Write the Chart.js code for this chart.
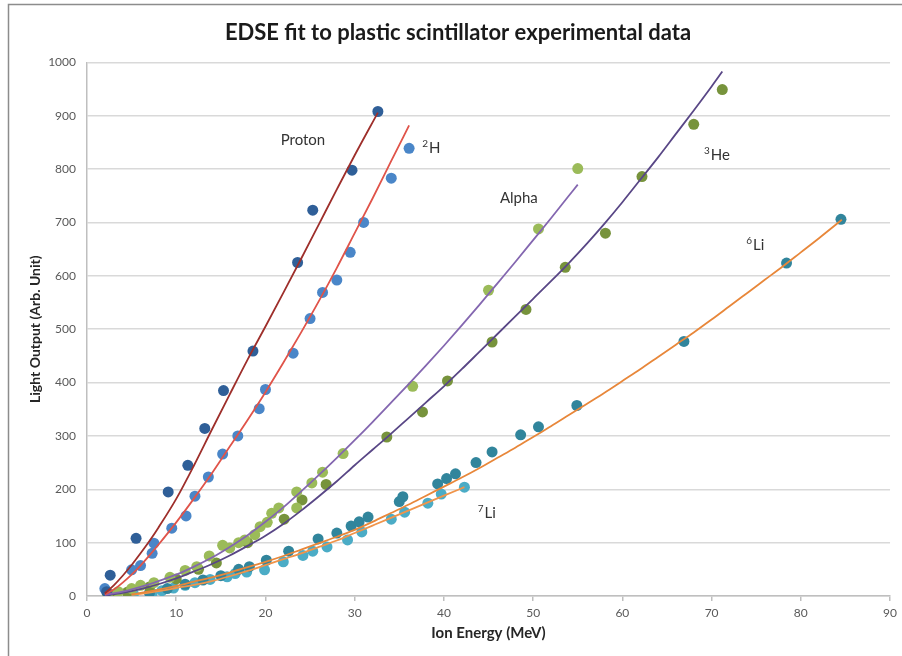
<!DOCTYPE html>
<html>
<head>
<meta charset="utf-8">
<script src="https://cdn.jsdelivr.net/npm/chart.js@4/dist/chart.umd.min.js"></script>
<style>
  html, body { margin: 0; padding: 0; background: #fff; }
</style>
</head>
<body>
<canvas id="chart" width="902" height="656"></canvas>
<script>
// measured light output per ion, and the EDSE fit curves
const protonE = [2.2, 2.6, 5.5, 9.1, 11.3, 13.2, 15.3, 18.6, 23.6, 25.3, 29.7, 32.6];
const protonL = [8, 39, 108, 195, 245, 314, 385, 459, 625, 723, 798, 908];
const protonFitE = [2, 3, 4, 5, 6, 7, 8, 10, 12, 14, 16, 18, 20, 22, 24, 26, 28, 30, 32.6];
const protonFitL = [5, 20, 38, 58, 80, 103, 128, 182, 245, 312, 378, 443, 505, 568, 632, 697, 762, 826, 906];

const deutE = [2.0, 5.0, 6.0, 7.3, 7.5, 9.5, 11.1, 12.1, 13.6, 15.2, 16.9, 19.3, 20.0, 23.1, 25.0, 26.4, 28.0, 29.5, 31.0, 34.1, 36.1];
const deutL = [14, 49, 57, 80, 99, 127, 150, 187, 223, 266, 300, 351, 387, 455, 520, 569, 592, 644, 700, 783, 839];
const deutFitE = [2, 3, 4, 5, 6, 7, 8, 10, 12, 14, 16, 18, 20, 22, 24, 26, 28, 30, 32, 34, 36.1];
const deutFitL = [3, 12, 25, 40, 57, 76, 96, 138, 183, 230, 280, 330, 382, 437, 494, 553, 615, 680, 745, 812, 882];

const alphaE = [2.3, 3.5, 5.0, 6.0, 7.5, 9.3, 11.0, 12.3, 13.7, 15.2, 16.0, 17.0, 17.7, 18.8, 19.4, 20.2, 20.7, 21.5, 23.5, 23.5, 25.2, 26.4, 28.7, 36.5, 45.0, 50.6, 55.0];
const alphaL = [3, 8, 14, 20, 25, 35, 48, 55, 75, 95, 90, 100, 105, 115, 130, 138, 155, 165, 165, 195, 212, 232, 267, 393, 573, 688, 801];
const alphaFitE = [2, 4, 6, 8, 10, 12, 14, 16, 18, 20, 22, 24, 26, 28, 30, 32, 34, 36, 38, 40, 42, 44, 46, 48, 50, 52, 54, 55];
const alphaFitL = [2, 8, 17, 28, 40, 55, 72, 92, 114, 139, 166, 196, 227, 259, 292, 326, 361, 396, 432, 469, 507, 546, 586, 626, 667, 708, 750, 771];

const he3E = [2.8, 4.5, 7.0, 10.0, 12.5, 14.5, 18.0, 22.1, 24.1, 26.8, 33.6, 37.6, 40.4, 45.4, 49.2, 53.6, 58.1, 62.2, 68.0, 71.2];
const he3L = [2, 7, 17, 32, 50, 62, 100, 144, 180, 209, 298, 345, 403, 476, 537, 616, 680, 786, 884, 949];
const he3FitE = [2, 4, 6, 8, 10, 12, 14, 16, 18, 20, 22, 24, 26, 28, 30, 32, 34, 36, 38, 40, 42, 44, 46, 48, 50, 52, 54, 56, 58, 60, 62, 64, 66, 68, 70, 71.2];
const he3FitL = [1, 6, 13, 22, 33, 46, 60, 76, 94, 113, 135, 160, 187, 215, 245, 274, 303, 333, 363, 393, 425, 458, 491, 524, 557, 590, 624, 660, 698, 738, 780, 822, 866, 910, 955, 983];

const li6E = [7.0, 9.0, 11.0, 13.0, 15.0, 17.0, 18.2, 20.1, 22.6, 25.9, 28.0, 29.6, 30.5, 31.5, 35.0, 35.4, 39.3, 40.3, 41.3, 43.6, 45.4, 48.6, 50.6, 54.9, 66.9, 78.4, 84.5];
const li6L = [6, 14, 22, 30, 38, 50, 55, 67, 84, 107, 118, 131, 139, 148, 177, 186, 210, 220, 229, 250, 270, 302, 317, 357, 477, 624, 706];
const li6FitE = [5, 8, 10, 12, 14, 16, 18, 20, 22, 24, 26, 28, 30, 32, 34, 36, 38, 40, 42, 44, 46, 48, 50, 52, 54, 56, 58, 60, 62, 64, 66, 68, 70, 72, 74, 76, 78, 80, 82, 84.6];
const li6FitL = [3, 12, 19, 27, 35, 44, 54, 64, 75, 87, 99, 111, 124, 139, 155, 171, 188, 205, 222, 240, 259, 278, 298, 318, 339, 360, 381, 403, 425, 448, 471, 494, 518, 543, 568, 593, 618, 644, 670, 705];

const li7E = [5.2, 7.3, 8.4, 9.7, 11.0, 12.1, 13.8, 15.7, 16.6, 17.9, 19.9, 22.0, 24.2, 25.3, 26.9, 29.2, 30.8, 34.1, 35.6, 38.2, 39.7, 42.3];
const li7L = [4, 5, 10, 15, 20, 25, 31, 36, 42, 45, 49, 64, 76, 84, 92, 105, 120, 144, 157, 174, 191, 204];
const li7FitE = [5, 6, 8, 10, 12, 14, 16, 18, 20, 22, 24, 26, 28, 30, 32, 34, 36, 38, 40, 42.3];
const li7FitL = [2, 4, 9, 15, 21, 28, 37, 47, 58, 69, 80, 92, 104, 118, 132, 146, 160, 174, 188, 204];

const xTicks = { min: 0, max: 90, step: 10 };
const yTicks = { min: 0, max: 1000, step: 100 };

// ion name labels placed in data coordinates: [superscript, name, energy, light]
const ionLabels = [
  ['', 'Proton', 24.2, 854],
  ['2', 'H', 38.6, 839],
  ['', 'Alpha', 48.4, 745],
  ['3', 'He', 70.6, 826],
  ['6', 'Li', 74.9, 657],
  ['7', 'Li', 44.8, 155],
];

const FONT = 'Lato, "Open Sans", sans-serif';

function zip(xs, ys) {
  return xs.map((x, i) => ({ x, y: ys[i] }));
}

function fitLine(label, xs, ys, color) {
  return {
    label, data: zip(xs, ys), showLine: true, borderColor: color, borderWidth: 1.8,
    pointRadius: 0, cubicInterpolationMode: 'monotone',
  };
}

function points(label, xs, ys, color) {
  return {
    label, data: zip(xs, ys), showLine: false, backgroundColor: color,
    pointRadius: 5.5, pointBorderWidth: 0, pointHoverRadius: 5.5,
  };
}

const frame = {
  id: 'frame',
  beforeDraw(chart) {
    const ctx = chart.ctx;
    ctx.save();
    ctx.fillStyle = '#fff';
    ctx.fillRect(0, 0, chart.width, chart.height);
    ctx.strokeStyle = '#8c8c8c';
    ctx.lineWidth = 1.5;
    ctx.beginPath();
    ctx.moveTo(8.5, chart.height);
    ctx.lineTo(8.5, 4.5);
    ctx.lineTo(chart.width, 4.5);
    ctx.stroke();
    ctx.restore();
  },
};

const ionNames = {
  id: 'ionNames',
  afterDatasetsDraw(chart) {
    const { ctx, scales: { x, y } } = chart;
    ctx.save();
    ctx.fillStyle = '#333';
    ctx.textBaseline = 'alphabetic';
    ionLabels.forEach(([sup, name, e, l]) => {
      const big = '15px ' + FONT;
      const small = '10px ' + FONT;
      ctx.font = small;
      const supW = sup ? ctx.measureText(sup).width + 1 : 0;
      ctx.font = big;
      const nameW = ctx.measureText(name).width;
      let px = x.getPixelForValue(e) - (supW + nameW) / 2;
      const base = y.getPixelForValue(l) + 5;
      if (sup) {
        ctx.font = small;
        ctx.fillText(sup, px, base - 6);
        px += supW;
      }
      ctx.font = big;
      ctx.fillText(name, px, base);
    });
    ctx.restore();
  },
};

new Chart(document.getElementById('chart'), {
  type: 'scatter',
  data: {
    datasets: [
      fitLine('Proton fit', protonFitE, protonFitL, '#9e2f2b'),
      fitLine('2H fit', deutFitE, deutFitL, '#e0544a'),
      fitLine('Alpha fit', alphaFitE, alphaFitL, '#8467b0'),
      fitLine('3He fit', he3FitE, he3FitL, '#594786'),
      fitLine('6Li fit', li6FitE, li6FitL, '#e8873a'),
      fitLine('7Li fit', li7FitE, li7FitL, '#f0944a'),
      points('Proton', protonE, protonL, '#2f5f98'),
      points('2H', deutE, deutL, '#4a86c8'),
      points('Alpha', alphaE, alphaL, '#9bbb59'),
      points('3He', he3E, he3L, '#77933c'),
      points('6Li', li6E, li6L, '#31859c'),
      points('7Li', li7E, li7L, '#4bacc6'),
    ],
  },
  options: {
    responsive: false,
    animation: false,
    layout: { padding: { left: 24, right: 10, top: 0, bottom: 0 } },
    plugins: {
      legend: { display: false },
      tooltip: { enabled: false },
      title: {
        display: true,
        text: 'EDSE fit to plastic scintillator experimental data',
        color: '#1a1a1a',
        font: { family: FONT, size: 22, weight: 'bold' },
        padding: { top: 20, bottom: 16 },
      },
    },
    scales: {
      x: {
        type: 'linear',
        min: xTicks.min,
        max: xTicks.max,
        ticks: { stepSize: xTicks.step, color: '#595959', padding: 5, font: { family: FONT, size: 12 } },
        grid: { drawOnChartArea: false, tickLength: 5, color: '#bfbfbf', lineWidth: 1.5 },
        border: { color: '#bfbfbf', width: 1.5 },
        title: {
          display: true, text: 'Ion Energy (MeV)', color: '#262626',
          font: { family: FONT, size: 15, weight: 'bold' }, padding: { top: 0, bottom: 14 },
        },
        afterFit(scale) { scale.height = 60; },
      },
      y: {
        type: 'linear',
        min: yTicks.min,
        max: yTicks.max,
        ticks: {
          stepSize: yTicks.step, color: '#595959', padding: 11, font: { family: FONT, size: 12 },
          callback: (v) => String(v),
        },
        grid: { color: '#d9d9d9', lineWidth: 1.5, drawTicks: false },
        border: { color: '#bfbfbf', width: 1.5 },
        title: {
          display: true, text: 'Light Output (Arb. Unit)', color: '#262626',
          font: { family: FONT, size: 14, weight: 'bold' }, padding: { top: 3, bottom: 0 },
        },
        afterFit(scale) { scale.width = 63; },
      },
    },
  },
  plugins: [frame, ionNames],
});
</script>
</body>
</html>
